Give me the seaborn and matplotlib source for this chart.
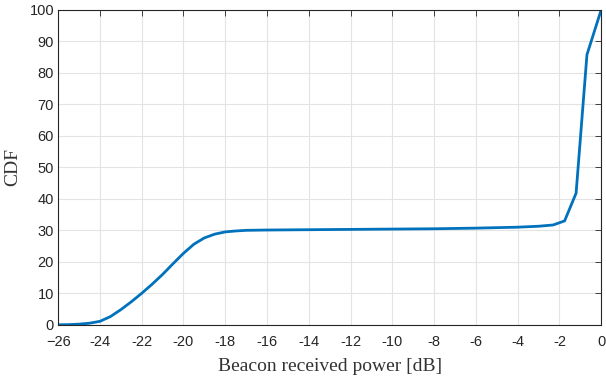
import matplotlib
matplotlib.use("Agg")
import matplotlib.pyplot as plt
import seaborn as sns
import pandas as pd

# CDF of beacon received power
power_db = [-26.0, -25.5, -25.0, -24.5, -24.0, -23.5, -23.0, -22.5, -22.0, -21.5,
            -21.0, -20.5, -20.0, -19.5, -19.0, -18.5, -18.0, -17.5, -17.0, -16.0,
            -14.0, -12.0, -10.0, -8.0, -6.0, -4.0, -3.0, -2.3, -1.75, -1.2, -0.68, 0.0]
cdf = [0.0, 0.05, 0.2, 0.5, 1.1, 2.6, 4.8, 7.3, 10.0, 12.9,
       16.0, 19.4, 22.7, 25.6, 27.6, 28.8, 29.5, 29.8, 30.0, 30.1,
       30.2, 30.3, 30.4, 30.5, 30.7, 31.0, 31.3, 31.7, 33.0, 41.8, 85.8, 100.0]

x_ticks = list(range(-26, 1, 2))
x_ticklabels = ["\u221226"] + [str(t) for t in x_ticks[1:]]
y_ticks = list(range(0, 101, 10))

df = pd.DataFrame({"power": power_db, "cdf": cdf})

sns.set_style("white")
plt.rcParams["font.family"] = ["Liberation Sans", "DejaVu Sans"]

fig, ax = plt.subplots(figsize=(6.06, 3.83), dpi=100)
fig.subplots_adjust(left=0.096, right=0.992, top=0.974, bottom=0.152)

sns.lineplot(data=df, x="power", y="cdf", ax=ax, color="#0072BD", linewidth=2.0)

ax.set_xlim(-26, 0)
ax.set_ylim(0, 100)
ax.set_xticks(x_ticks)
ax.set_xticklabels(x_ticklabels)
ax.set_yticks(y_ticks)

ax.grid(True, color="#e3e3e3", linewidth=0.8)
ax.set_axisbelow(True)
for s in ax.spines.values():
    s.set_color("#262626")
    s.set_linewidth(0.8)
ax.tick_params(direction="in", length=4, width=0.6, color="#262626",
               top=True, right=True, labelsize=10.5, labelcolor="#262626")
ax.tick_params(axis="x", pad=7)
ax.tick_params(axis="y", pad=3)

ax.set_xlabel("Beacon received power [dB]", family=["Liberation Serif"], fontsize=14,
              color="#333333", labelpad=7)
ax.set_ylabel("CDF", family=["Liberation Serif"], fontsize=14, color="#333333",
              labelpad=6)

fig.savefig("out.png", dpi=100)
